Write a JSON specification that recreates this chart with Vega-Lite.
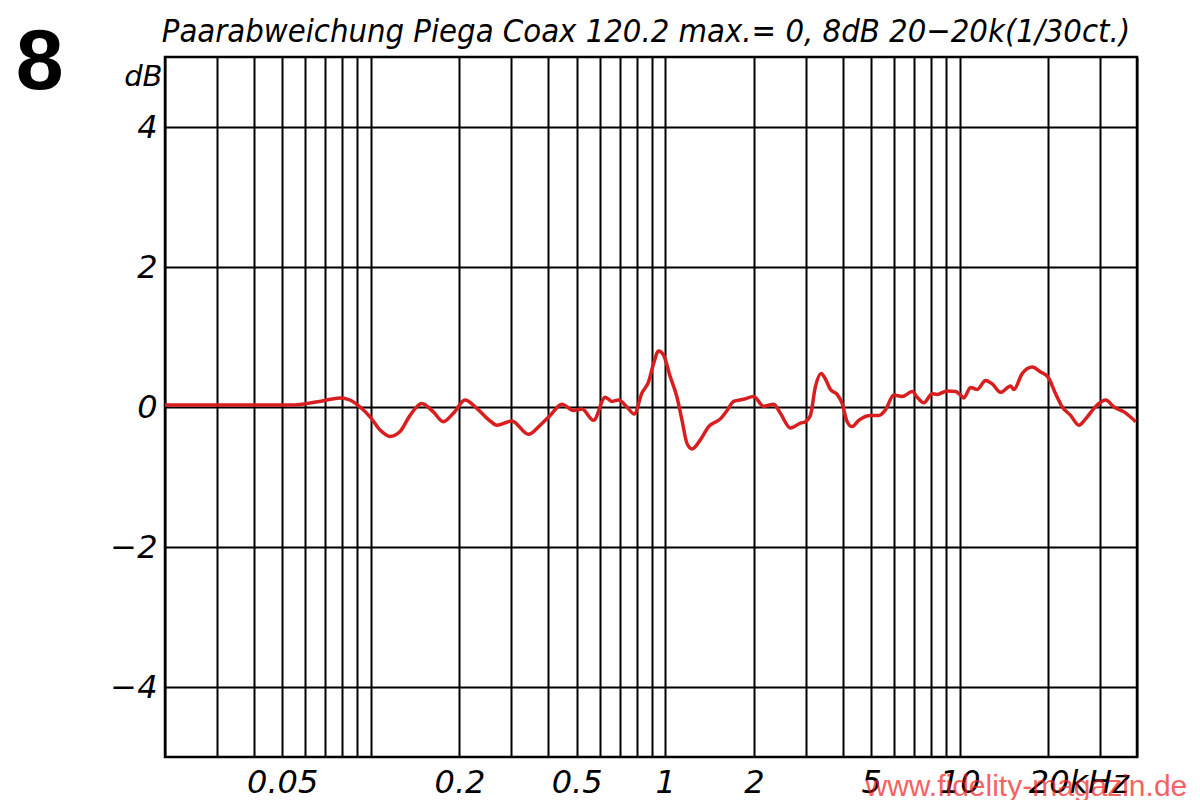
{
  "$schema": "https://vega.github.io/schema/vega-lite/v6.json",
  "width": 972,
  "height": 700,
  "autosize": {"type": "none"},
  "padding": {"left": 165, "top": 57, "right": 63, "bottom": 43},
  "background": "white",
  "config": {
    "view": {"stroke": "black", "strokeWidth": 2.5}
  },
  "title": {
    "text": "Paarabweichung Piega Coax 120.2 max.= 0, 8dB 20−20k(1/30ct.)",
    "font": "DejaVu Sans Condensed",
    "fontSize": 32.5,
    "fontStyle": "italic",
    "fontWeight": "normal",
    "color": "black",
    "anchor": "middle",
    "offset": 8,
    "dy": 37,
    "dx": -5
  },
  "layer": [
    {
      "data": {
        "values": [
          {"f": 0.02, "db": 0.03},
          {"f": 0.04, "db": 0.03},
          {"f": 0.055, "db": 0.03},
          {"f": 0.0606, "db": 0.05},
          {"f": 0.069, "db": 0.09},
          {"f": 0.0786, "db": 0.13},
          {"f": 0.085, "db": 0.10},
          {"f": 0.0919, "db": 0.0},
          {"f": 0.0994, "db": -0.14},
          {"f": 0.1075, "db": -0.33},
          {"f": 0.1162, "db": -0.42},
          {"f": 0.1257, "db": -0.35},
          {"f": 0.1359, "db": -0.12},
          {"f": 0.1489, "db": 0.05},
          {"f": 0.1631, "db": -0.07},
          {"f": 0.1764, "db": -0.21},
          {"f": 0.1907, "db": -0.09},
          {"f": 0.209, "db": 0.10},
          {"f": 0.2291, "db": -0.02},
          {"f": 0.2542, "db": -0.20},
          {"f": 0.2678, "db": -0.26},
          {"f": 0.3012, "db": -0.20},
          {"f": 0.3431, "db": -0.39},
          {"f": 0.3759, "db": -0.26},
          {"f": 0.4066, "db": -0.12},
          {"f": 0.4456, "db": 0.04},
          {"f": 0.488, "db": -0.05},
          {"f": 0.5212, "db": -0.03},
          {"f": 0.5706, "db": -0.19},
          {"f": 0.6254, "db": 0.14},
          {"f": 0.6589, "db": 0.08},
          {"f": 0.694, "db": 0.10},
          {"f": 0.7411, "db": 0.0},
          {"f": 0.7845, "db": -0.10},
          {"f": 0.8332, "db": 0.20},
          {"f": 0.8774, "db": 0.36},
          {"f": 0.9125, "db": 0.62},
          {"f": 0.9489, "db": 0.80},
          {"f": 0.9867, "db": 0.74},
          {"f": 1.04, "db": 0.43},
          {"f": 1.096, "db": 0.14},
          {"f": 1.14, "db": -0.19},
          {"f": 1.185, "db": -0.52},
          {"f": 1.233, "db": -0.60},
          {"f": 1.315, "db": -0.47},
          {"f": 1.404, "db": -0.28},
          {"f": 1.538, "db": -0.17},
          {"f": 1.621, "db": -0.05},
          {"f": 1.707, "db": 0.08},
          {"f": 1.845, "db": 0.11},
          {"f": 1.996, "db": 0.15},
          {"f": 2.159, "db": 0.01},
          {"f": 2.334, "db": 0.04},
          {"f": 2.46, "db": -0.09},
          {"f": 2.66, "db": -0.30},
          {"f": 2.877, "db": -0.23},
          {"f": 2.991, "db": -0.21},
          {"f": 3.111, "db": -0.12},
          {"f": 3.235, "db": 0.29},
          {"f": 3.383, "db": 0.48},
          {"f": 3.498, "db": 0.40},
          {"f": 3.638, "db": 0.25},
          {"f": 3.834, "db": 0.18},
          {"f": 3.987, "db": 0.05},
          {"f": 4.146, "db": -0.21},
          {"f": 4.312, "db": -0.28},
          {"f": 4.54, "db": -0.19},
          {"f": 4.976, "db": -0.12},
          {"f": 5.309, "db": -0.12},
          {"f": 5.596, "db": -0.04},
          {"f": 5.97, "db": 0.17},
          {"f": 6.377, "db": 0.15},
          {"f": 6.895, "db": 0.22},
          {"f": 7.17, "db": 0.14},
          {"f": 7.551, "db": 0.06},
          {"f": 8.063, "db": 0.19},
          {"f": 8.385, "db": 0.18},
          {"f": 9.068, "db": 0.23},
          {"f": 9.676, "db": 0.22},
          {"f": 10.062, "db": 0.17},
          {"f": 10.325, "db": 0.13},
          {"f": 10.882, "db": 0.28},
          {"f": 11.468, "db": 0.25},
          {"f": 12.24, "db": 0.38},
          {"f": 12.896, "db": 0.33},
          {"f": 13.763, "db": 0.21},
          {"f": 14.883, "db": 0.30},
          {"f": 15.272, "db": 0.25},
          {"f": 16.313, "db": 0.48},
          {"f": 17.64, "db": 0.57},
          {"f": 18.822, "db": 0.50},
          {"f": 19.93, "db": 0.43},
          {"f": 21.167, "db": 0.19},
          {"f": 22.305, "db": 0.0},
          {"f": 23.802, "db": -0.12},
          {"f": 25.397, "db": -0.26},
          {"f": 26.769, "db": -0.17},
          {"f": 28.568, "db": -0.02},
          {"f": 29.708, "db": 0.05},
          {"f": 31.294, "db": 0.10},
          {"f": 33.404, "db": 0.0},
          {"f": 36.13, "db": -0.07},
          {"f": 39.6, "db": -0.21}
        ]
      },
      "mark": {"type": "line", "color": "#d81e1e", "strokeWidth": 3.5, "interpolate": "monotone"},
      "encoding": {
        "x": {
          "field": "f",
          "type": "quantitative",
          "scale": {"type": "log", "domain": [0.02, 40], "nice": false},
          "axis": {
            "title": null,
            "values": [0.02, 0.03, 0.04, 0.05, 0.06, 0.07, 0.08, 0.09, 0.1, 0.2, 0.3, 0.4, 0.5, 0.6, 0.7, 0.8, 0.9, 1, 2, 3, 4, 5, 6, 7, 8, 9, 10, 20, 30, 40],
            "labelExpr": "indexof([0.05, 0.2, 0.5, 1, 2, 5, 10], datum.value) >= 0 ? format(datum.value, '~g') : (datum.value == 20 ? '20kHz' : '')",
            "labelAlign": {"condition": {"test": "datum.value == 20", "value": "left"}, "value": "center"},
            "labelOffset": {"condition": {"test": "datum.value == 20", "value": -20}, "value": 0},
            "grid": true,
            "gridColor": "black",
            "gridWidth": 2,
            "gridOpacity": 1,
            "ticks": false,
            "domain": false,
            "labelFont": "DejaVu Sans",
            "labelFontStyle": "italic",
            "labelFontSize": 32,
            "labelColor": "black",
            "labelPadding": 10,
            "labelOverlap": false,
            "labelFlush": false,
            "labelBound": false
          }
        },
        "y": {
          "field": "db",
          "type": "quantitative",
          "scale": {"domain": [-5, 5], "nice": false},
          "axis": {
            "values": [-4, -2, 0, 2, 4],
            "labelExpr": "datum.value < 0 ? '−' + abs(datum.value) : '' + datum.value",
            "grid": true,
            "gridColor": "black",
            "gridWidth": 2,
            "gridOpacity": 1,
            "ticks": false,
            "domain": false,
            "labelFont": "DejaVu Sans",
            "labelFontStyle": "italic",
            "labelFontSize": 32,
            "labelColor": "black",
            "labelPadding": 8,
            "labelOverlap": false,
            "labelFlush": false,
            "title": "dB",
            "titleAngle": 0,
            "titleFont": "DejaVu Sans",
            "titleFontStyle": "italic",
            "titleFontWeight": "normal",
            "titleFontSize": 29,
            "titleColor": "black",
            "titleAlign": "right",
            "titleBaseline": "alphabetic",
            "titleX": -3,
            "titleY": 28
          }
        }
      }
    },
    {
      "data": {"values": [{}]},
      "mark": {"type": "text", "text": "8", "font": "Liberation Sans", "fontSize": 86, "fontWeight": "bold", "color": "black", "align": "center", "baseline": "alphabetic"},
      "encoding": {
        "x": {"datum": 0.0075, "type": "quantitative"},
        "y": {"datum": 4.55, "type": "quantitative"}
      }
    },
    {
      "data": {"values": [{}]},
      "mark": {"type": "text", "text": "www.fidelity-magazin.de", "font": "Liberation Sans", "fontSize": 30, "color": "#f02020", "opacity": 0.7, "align": "left", "baseline": "alphabetic"},
      "encoding": {
        "x": {"datum": 4.785, "type": "quantitative"},
        "y": {"datum": -5.56, "type": "quantitative"}
      }
    }
  ]
}
